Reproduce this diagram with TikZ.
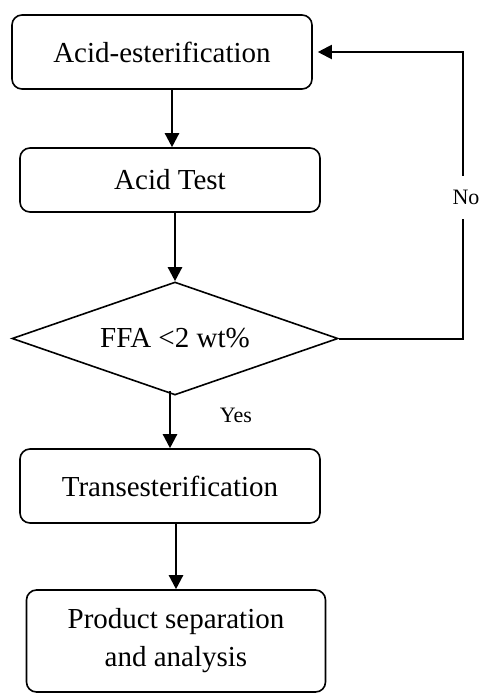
\documentclass[tikz,border=0pt]{standalone}
\usepackage{fontspec}
\setmainfont{Liberation Serif}
\usetikzlibrary{shapes.geometric,arrows.meta}
\begin{document}
\begin{tikzpicture}[x=1pt,y=-1pt,
	stage/.style={draw,line width=1.6pt,rounded corners=10pt,minimum width=300pt,inner sep=0pt,align=center,font=\fontsize{29}{38}\selectfont},
	decision/.style={draw,diamond,line width=1.6pt,aspect=2.9,minimum width=326pt,minimum height=113pt,inner sep=0pt,font=\fontsize{29}{35}\selectfont},
	lab/.style={inner sep=0pt,font=\fontsize{22}{26}\selectfont},
	flow/.style={line width=2.4pt,-{Triangle[length=14pt,width=14pt]}}]
	\useasboundingbox (0,0) rectangle (483,694);
	\node[stage,minimum height=74pt] (acid) at (162,52) {Acid-esterification};
	\node[stage,minimum height=64pt] (test) at (170,180) {Acid Test};
	\node[decision] (ffa) at (175,338.5) {FFA <2 wt\%};
	\node[stage,minimum height=74pt] (trans) at (170,486) {Transesterification};
	\node[stage,minimum height=102pt,minimum width=299pt] (prod) at (176,641) {Product separation\\and analysis};
	\coordinate (loopdown) at (463,338.5);
	\coordinate (loopup) at (463,52);
	\draw[flow] ([xshift=10pt]acid.south) -- ([xshift=2pt]test.north);
	\draw[flow] ([xshift=5pt]test.south) -- (ffa.north);
	\draw[flow] ([xshift=-5pt,yshift=5pt]ffa.south) -- (trans.north);
	\draw[flow] ([xshift=6pt]trans.south) -- (prod.north);
	\draw[flow,line width=2pt] (ffa.east) -- (loopdown) -- (loopup) -- ([xshift=5pt]acid.east);
	\node[lab,fill=white,minimum height=43pt] (no) at (466,197) {No};
	\node[lab] (yes) at (236,415) {Yes};
\end{tikzpicture}
\end{document}
